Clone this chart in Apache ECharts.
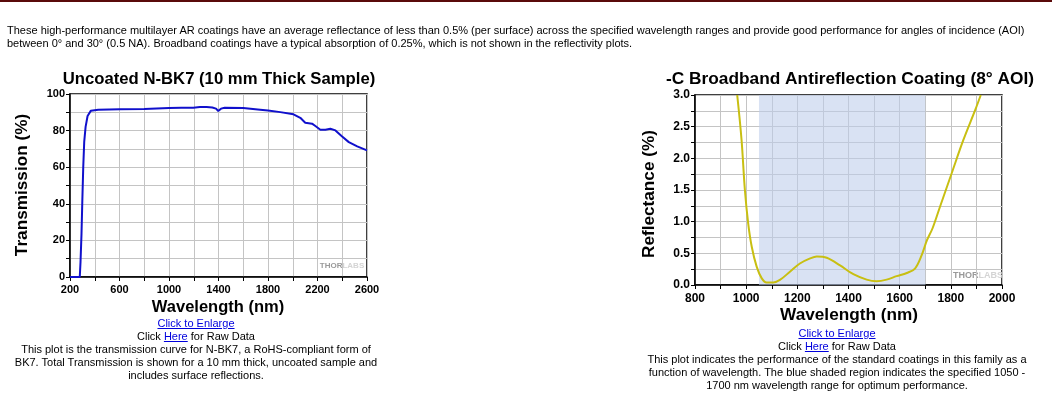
<!DOCTYPE html>
<html>
<head>
<meta charset="utf-8">
<script src="https://cdn.jsdelivr.net/npm/echarts@6/dist/echarts.min.js"></script>
<style>
  html, body { margin: 0; padding: 0; background: #fff; }
  #wrap { position: relative; width: 1052px; height: 397px; overflow: hidden; border-top: 2px solid #5a0a0a; box-sizing: border-box; }
  #chart { position: absolute; left: 0; top: 0; width: 1052px; height: 397px; }
  .txt { position: absolute; font-family: "Liberation Sans", Arial, sans-serif; font-size: 11px; line-height: 13px; color: #000; letter-spacing: 0px; white-space: nowrap; }
  .ctr { text-align: center; }
  a { color: #0000dd; text-decoration: underline; }
</style>
</head>
<body>
<div id="wrap">
  <div id="chart"></div>
  <div class="txt" style="left:7px; top:22px;">These high-performance multilayer AR coatings have an average reflectance of less than 0.5% (per surface) across the specified wavelength ranges and provide good performance for angles of incidence (AOI)<br>between 0° and 30° (0.5 NA). Broadband coatings have a typical absorption of 0.25%, which is not shown in the reflectivity plots.</div>
  <div class="txt ctr" style="left:0px; width:392px; top:315px;"><a>Click to Enlarge</a><br>Click <a>Here</a> for Raw Data<br>This plot is the transmission curve for N-BK7, a RoHS-compliant form of<br>BK7. Total Transmission is shown for a 10 mm thick, uncoated sample and<br>includes surface reflections.</div>
  <div class="txt ctr" style="left:637px; width:400px; top:325px;"><a>Click to Enlarge</a><br>Click <a>Here</a> for Raw Data<br>This plot indicates the performance of the standard coatings in this family as a<br>function of wavelength. The blue shaded region indicates the specified 1050 -<br>1700 nm wavelength range for optimum performance.</div>
</div>
<script>
// ---- data ----
const bk7Wavelength = [200, 279, 285, 293, 299, 307, 315, 326, 342, 369, 428, 603, 800, 1000, 1100, 1196, 1250, 1304, 1350, 1380, 1398, 1420, 1450, 1600, 1737, 1800, 1899, 2006, 2061, 2101, 2156, 2183, 2223, 2264, 2304, 2345, 2399, 2453, 2521, 2600];
const bk7Transmission = [0, 0, 8.2, 23.7, 40, 60, 74, 82, 88, 90.9, 91.4, 91.6, 91.8, 92.3, 92.5, 92.5, 92.9, 92.9, 92.6, 92.0, 90.7, 92.0, 92.5, 92.3, 91.4, 91.0, 90.1, 88.9, 87.0, 84.3, 83.8, 82.5, 80.5, 80.5, 81.0, 80.1, 76.8, 73.7, 71.4, 69.2];

const arcWavelength = [965, 982, 995, 1008, 1022, 1041, 1061, 1080, 1106, 1132, 1171, 1210, 1250, 1276, 1315, 1367, 1419, 1471, 1510, 1549, 1588, 1628, 1660, 1686, 1706, 1729, 1758, 1803, 1849, 1895, 1917];
const arcReflectance = [3.0, 2.29, 1.50, 0.97, 0.60, 0.29, 0.105, 0.04, 0.04, 0.08, 0.21, 0.34, 0.42, 0.45, 0.43, 0.31, 0.17, 0.085, 0.06, 0.085, 0.14, 0.19, 0.26, 0.47, 0.70, 0.90, 1.24, 1.76, 2.29, 2.76, 3.0];

const specBand = [1050, 1700];

const titleLeft = 'Uncoated N-BK7 (10 mm Thick Sample)';
const titleRight = '-C Broadband Antireflection Coating (8° AOI)';
const xNameText = 'Wavelength (nm)';
const yNameLeft = 'Transmission (%)';
const yNameRight = 'Reflectance (%)';

// ---- chart ----
const FONT = '"Liberation Sans", Arial, sans-serif';
const GRIDC = '#c4c4c4';

function valAxis(gi, min, max, step, labelStep, fmt, fontSize, margin) {
  return {
    type: 'value', gridIndex: gi, min: min, max: max, interval: step,
    axisLine: { show: true, onZero: false, lineStyle: { color: '#000', width: 1.5 } },
    axisTick: { show: true, inside: false, length: 4, lineStyle: { color: '#000', width: 1 } },
    splitLine: { show: true, lineStyle: { color: GRIDC, width: 1 } },
    axisLabel: {
      show: true, margin: margin, color: '#000', fontFamily: FONT, fontWeight: 'bold', fontSize: fontSize,
      showMinLabel: true, showMaxLabel: true, hideOverlap: false,
      formatter: function (v) {
        const k = Math.round((v - min) / labelStep * 1000) / 1000;
        return Number.isInteger(k) ? fmt(v) : '';
      }
    }
  };
}

const option = {
  animation: false,
  backgroundColor: 'transparent',
  grid: [
    { left: 70, top: 92, width: 297, height: 183, show: true, borderColor: '#000', borderWidth: 1.5, backgroundColor: 'transparent' },
    { left: 695, top: 93, width: 307, height: 190, show: true, borderColor: '#000', borderWidth: 1.5, backgroundColor: 'transparent' }
  ],
  xAxis: [
    valAxis(0, 200, 2600, 200, 400, v => String(v), 11, 7),
    valAxis(1, 800, 2000, 100, 200, v => String(v), 12, 8)
  ],
  yAxis: [
    valAxis(0, 0, 100, 10, 20, v => String(v), 11, 5),
    valAxis(1, 0, 3, 0.25, 0.5, v => v.toFixed(1), 12, 5)
  ],
  series: [
    {
      type: 'line', xAxisIndex: 0, yAxisIndex: 0, showSymbol: false, smooth: false,
      lineStyle: { color: '#1010cc', width: 2 },
      data: bk7Wavelength.map((w, i) => [w, bk7Transmission[i]])
    },
    {
      type: 'line', xAxisIndex: 1, yAxisIndex: 1, showSymbol: false, smooth: 0.35, clip: true,
      lineStyle: { color: '#c8bf12', width: 2 },
      data: arcWavelength.map((w, i) => [w, arcReflectance[i]]),
      markArea: {
        silent: true,
        itemStyle: { color: 'rgba(190,205,235,0.58)' },
        data: [[{ xAxis: specBand[0] }, { xAxis: specBand[1] }]]
      }
    }
  ],
  graphic: [
    { type: 'text', x: 219, y: 77, style: { text: titleLeft, font: 'bold 16.7px ' + FONT, fill: '#000', textAlign: 'center', textVerticalAlign: 'middle' } },
    { type: 'text', x: 850, y: 77, style: { text: titleRight, font: 'bold 17.3px ' + FONT, fill: '#000', textAlign: 'center', textVerticalAlign: 'middle' } },
    { type: 'text', x: 218, y: 305, style: { text: xNameText, font: 'bold 16.5px ' + FONT, fill: '#000', textAlign: 'center', textVerticalAlign: 'middle' } },
    { type: 'text', x: 849, y: 313, style: { text: xNameText, font: 'bold 17.2px ' + FONT, fill: '#000', textAlign: 'center', textVerticalAlign: 'middle' } },
    { type: 'text', x: 22, y: 183, rotation: Math.PI / 2, style: { text: yNameLeft, font: 'bold 17.2px ' + FONT, fill: '#000', textAlign: 'center', textVerticalAlign: 'middle' } },
    { type: 'text', x: 649, y: 192, rotation: Math.PI / 2, style: { text: yNameRight, font: 'bold 17.2px ' + FONT, fill: '#000', textAlign: 'center', textVerticalAlign: 'middle' } },
    { type: 'text', x: 342, y: 264, style: { text: '{a|THOR}{b|LABS}', textAlign: 'center', textVerticalAlign: 'middle', rich: { a: { font: 'bold 8px ' + FONT, fill: '#9a9a9a', color: '#9a9a9a' }, b: { font: 'bold 8px ' + FONT, fill: '#d4d4d4', color: '#d4d4d4' } } } },
    { type: 'text', x: 978, y: 274, style: { text: '{a|THOR}{b|LABS}', textAlign: 'center', textVerticalAlign: 'middle', rich: { a: { font: 'bold 9px ' + FONT, fill: '#9a9a9a', color: '#9a9a9a' }, b: { font: 'bold 9px ' + FONT, fill: '#d4d4d4', color: '#d4d4d4' } } } }
  ]
};

const chart = echarts.init(document.getElementById('chart'), null, { renderer: 'canvas', width: 1052, height: 397 });
chart.setOption(option);
</script>
</body>
</html>
